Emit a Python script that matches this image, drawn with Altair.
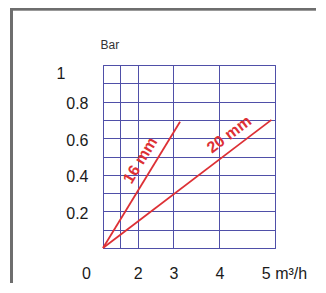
import altair as alt
import pandas as pd

# pressure-loss lines (flow m³/h vs pressure bar), straight on a Q^1.75 axis
series = ["16 mm", "16 mm", "20 mm", "20 mm"]
flow = [0.0, 3.16, 0.0, 4.94]
pressure = [0.0, 0.69, 0.0, 0.70]

label_text = ["16 mm", "20 mm"]
label_flow = [2.09, 4.19]
label_pressure = [0.479, 0.62]
label_angle = [301, 323]

x_grid = [0, 1.35, 2, 3, 4, 5]
y_grid = [0, 0.1, 0.2, 0.3, 0.4, 0.5, 0.6, 0.7, 0.8, 0.9, 1.0]

RED = "#dd3035"
GRID = "#4f4fa8"
FONT = "Liberation Sans"

lines_df = pd.DataFrame({"series": series, "flow": flow, "pressure": pressure})
labels_df = pd.DataFrame({"label": label_text, "flow": label_flow,
                          "pressure": label_pressure, "angle": label_angle})

xscale = alt.Scale(type="pow", exponent=1.75, domain=[0, 5], nice=False)
yscale = alt.Scale(domain=[0, 1], nice=False)

x_axis = alt.Axis(
    values=x_grid, title=None, grid=True, gridColor=GRID, gridWidth=1,
    domain=False, ticks=False, labelFont=FONT, labelFontSize=16,
    labelColor="#1a1a1a", labelPadding=17, labelOverlap=False, labelFlush=False,
    labelExpr="datum.value == 0 ? '0' : (datum.value == 5 ? '5 m³/h' : (indexof([2,3,4], datum.value) >= 0 ? format(datum.value, 'd') : ''))",
    labelOffset={"condition": [{"test": "datum.value == 0", "value": -17},
                               {"test": "datum.value == 5", "value": 9}],
                 "value": 0},
)
y_axis = alt.Axis(
    values=y_grid, title="Bar", grid=True, gridColor=GRID, gridWidth=1,
    domain=False, ticks=False, labelFont=FONT, labelFontSize=16,
    labelColor="#1a1a1a", labelOverlap=False, labelFlush=False,
    labelExpr="(datum.value > 0 && round(datum.value * 10) % 2 == 0) ? format(datum.value, '.1~f') : ''",
    labelPadding={"condition": {"test": "datum.value == 1", "value": 38}, "value": 15},
    labelOffset={"condition": {"test": "datum.value == 1", "value": 8}, "value": 2},
    titleAngle=0, titleAlign="left", titleBaseline="alphabetic",
    titleX=-3, titleY=-17, titleFont=FONT, titleFontSize=12,
    titleFontWeight="normal", titleColor="#333333",
)

lines = alt.Chart(lines_df).mark_line(color=RED, strokeWidth=1.8).encode(
    x=alt.X("flow:Q", scale=xscale, axis=x_axis),
    y=alt.Y("pressure:Q", scale=yscale, axis=y_axis),
    detail="series:N",
)

texts = alt.Chart(labels_df).mark_text(
    color=RED, font=FONT, fontSize=16, fontWeight="bold",
    align="center", baseline="middle",
).encode(
    x=alt.X("flow:Q", scale=xscale, axis=x_axis),
    y=alt.Y("pressure:Q", scale=yscale, axis=y_axis),
    text="label:N",
    angle=alt.Angle("angle:Q", scale=None),
)

frame_top = alt.Chart(lines_df).mark_rule(color="#6e6e6e", strokeWidth=2.5).encode(
    x=alt.value(-92), x2=alt.value(240), y=alt.value(-56)
)
frame_left = alt.Chart(lines_df).mark_rule(color="#6e6e6e", strokeWidth=2.5).encode(
    x=alt.value(-91.5), y=alt.value(-57), y2=alt.value(240)
)
frame_right = alt.Chart(lines_df).mark_rule(color="#e4e4e4", strokeWidth=1).encode(
    x=alt.value(218), y=alt.value(-55), y2=alt.value(240)
)

chart = alt.layer(lines, texts, frame_top, frame_left, frame_right).properties(
    width=172, height=183,
    autosize=alt.AutoSizeParams(type="none"),
    padding={"left": 95, "top": 57, "right": 41, "bottom": 35},
    background="white",
).configure_view(stroke=GRID, strokeWidth=1)

chart.save("out.html", embed_options={"renderer": "svg", "actions": False})
